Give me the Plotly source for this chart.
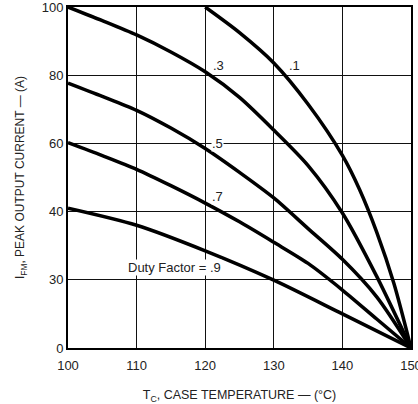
import plotly.graph_objects as go

# Duty factor curves: case temperature (°C) vs peak output current (A)
x_d1 = [120, 125, 130, 135, 140, 142.5, 145, 147.5, 150]
y_d1 = [100, 92.5, 83.6, 71.5, 56.5, 46.5, 34, 19, 0]

x_d3 = [100, 105, 110, 115, 120, 125, 130, 135, 140, 145, 150]
y_d3 = [100, 96, 91.8, 86.8, 81, 73.5, 63.9, 53.5, 39.6, 21, 0]

x_d5 = [100, 105, 110, 115, 120, 125, 130, 135, 140, 145, 150]
y_d5 = [77.7, 73.8, 69.7, 64.5, 58.5, 51.5, 44, 35, 26, 15, 0]

x_d7 = [100, 105, 110, 115, 120, 125, 130, 135, 140, 145, 150]
y_d7 = [60.2, 56.4, 52.4, 47.6, 42.5, 37, 31, 24.8, 17, 8.5, 0]

x_d9 = [100, 110, 120, 130, 140, 150]
y_d9 = [41, 36, 28.5, 19.9, 10, 0]

x_ticks = [100, 110, 120, 130, 140, 150]
y_tickvals = [0, 20, 40, 60, 80, 100]
y_ticktext = ["0", "30", "40", "60", "80", "100"]

labels = [".1", ".3", ".5", ".7", "Duty Factor = .9"]
label_x = [133.0, 122.0, 121.8, 121.8, 115.5]
label_y = [82.7, 82.7, 60.1, 44.3, 23.5]

fig = go.Figure()
for xs, ys in [(x_d1, y_d1), (x_d3, y_d3), (x_d5, y_d5), (x_d7, y_d7), (x_d9, y_d9)]:
    fig.add_trace(go.Scatter(x=xs, y=ys, mode="lines",
                             line=dict(color="black", width=3.5, shape="spline", smoothing=0.8),
                             showlegend=False, hoverinfo="skip", cliponaxis=False))

for t, ax, ay in zip(labels, label_x, label_y):
    fig.add_annotation(x=ax, y=ay, text=t, showarrow=False,
                       font=dict(family="Liberation Sans", size=13, color="#222"),
                       bgcolor="white", borderpad=0)

font = dict(family="Liberation Sans", size=12, color="#222")
fig.update_layout(
    width=418, height=404,
    margin=dict(l=68, r=7, t=7, b=56),
    paper_bgcolor="white", plot_bgcolor="white",
    font=font,
    xaxis=dict(range=[100, 150], tickvals=x_ticks, showgrid=True, gridcolor="#111", gridwidth=1.3,
               showline=True, linecolor="black", linewidth=2, mirror=True, zeroline=False,
               ticks="", ticklabeloverflow="allow", automargin=False, ticklabelstandoff=4,
               tickfont=dict(family="Liberation Sans", size=13, color="#222"),
               title=dict(text="T<sub>C</sub>, CASE TEMPERATURE — (°C)", font=dict(size=12.5), standoff=19)),
    yaxis=dict(range=[0, 100], tickvals=y_tickvals, ticktext=y_ticktext, showgrid=True,
               gridcolor="#111", gridwidth=1.3, showline=True, linecolor="black", linewidth=2,
               mirror=True, zeroline=False, ticks="", ticklabeloverflow="allow", automargin=False,
               tickfont=dict(family="Liberation Sans", size=13, color="#222"),
               title=dict(text="I<sub>FM</sub>, PEAK OUTPUT CURRENT — (A)", font=dict(size=12), standoff=14)),
)
fig.write_html("out.html", config={"displayModeBar": False},
               post_script="document.body.style.margin='0';document.body.style.overflow='hidden';")
